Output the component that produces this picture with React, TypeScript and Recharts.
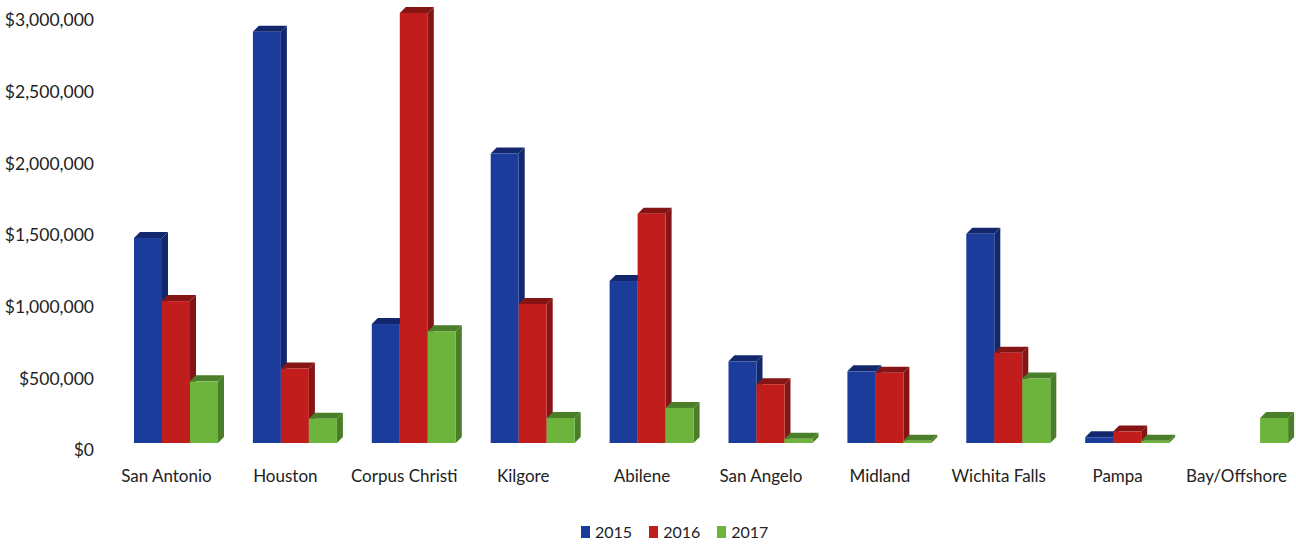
import { BarChart, Bar, XAxis, YAxis, Legend } from 'recharts';

const categories = [
  'San Antonio', 'Houston', 'Corpus Christi', 'Kilgore', 'Abilene',
  'San Angelo', 'Midland', 'Wichita Falls', 'Pampa', 'Bay/Offshore',
];
const values2015 = [1430000, 2870000, 830000, 2020000, 1130000, 570000, 500000, 1460000, 40000, 0];
const values2016 = [990000, 520000, 3000000, 970000, 1600000, 410000, 490000, 630000, 80000, 0];
const values2017 = [430000, 170000, 780000, 175000, 245000, 30000, 15000, 450000, 15000, 175000];
const yTicks = [0, 500000, 1000000, 1500000, 2000000, 2500000, 3000000];

const series = [
  { key: 'y2015', name: '2015', fill: '#1c3c9c', dark: '#13286c' },
  { key: 'y2016', name: '2016', fill: '#c21d1d', dark: '#851414' },
  { key: 'y2017', name: '2017', fill: '#6cb43c', dark: '#4a7e28' },
];

const data = categories.map((c, i) => ({
  name: c,
  y2015: values2015[i],
  y2016: values2016[i],
  y2017: values2017[i],
}));

const FONT = 'Lato, "Open Sans", sans-serif';

// front face + top cap + right side; the whole block sits a little
// behind the axis baseline like the 3D column chart it copies
function Bar3D(props: any) {
  const { x, width, height, fill, dark } = props;
  if (!height || height <= 0) return null;
  const d = 6;
  const y = props.y - 7;
  return (
    <g>
      <path
        d={`M${x},${y} L${x + d},${y - d} L${x + width + d},${y - d} L${x + width},${y} Z`}
        fill={dark}
      />
      <path
        d={`M${x + width},${y} L${x + width + d},${y - d} L${x + width + d},${y + height - d} L${x + width},${y + height} Z`}
        fill={dark}
      />
      <rect x={x} y={y} width={width} height={height} fill={fill} />
    </g>
  );
}

function LegendBox() {
  return (
    <div style={{ display: 'flex', gap: 17, fontFamily: FONT, fontSize: 16, color: '#222' }}>
      {series.map(s => (
        <div key={s.key} style={{ display: 'flex', alignItems: 'center', gap: 5 }}>
          <span style={{ display: 'inline-block', width: 9, height: 12, background: s.fill }} />
          <span>{s.name}</span>
        </div>
      ))}
    </div>
  );
}

export default function App() {
  return (
    <div style={{ position: 'absolute', left: 0, top: 0, width: 1296, height: 544, background: '#fff' }}>
      <BarChart
        width={1296}
        height={544}
        data={data}
        margin={{ top: 20, right: -10, left: 0, bottom: 54 }}
        barGap={0}
        barSize={28}
      >
        <XAxis
          dataKey="name"
          axisLine={false}
          tickLine={false}
          height={40}
          interval={0}
          tickMargin={14}
          tick={{ fontSize: 17, fill: '#222', fontFamily: FONT, dx: -10 }}
        />
        <YAxis
          width={117}
          domain={[0, 3000000]}
          ticks={yTicks}
          axisLine={false}
          tickLine={false}
          tickMargin={17}
          tickFormatter={(v: number) => `$${v.toLocaleString('en-US')}`}
          tick={{ fontSize: 17.5, fill: '#222', fontFamily: FONT }}
        />
        <Legend
          verticalAlign="middle"
          align="center"
          layout="horizontal"
          content={() => <LegendBox />}
          wrapperStyle={{ top: 522, left: 581, width: 220, height: 24 }}
        />
        {series.map(s => (
          <Bar
            key={s.key}
            dataKey={s.key}
            name={s.name}
            fill={s.fill}
            isAnimationActive={false}
            shape={(p: any) => <Bar3D {...p} fill={s.fill} dark={s.dark} />}
          />
        ))}
      </BarChart>
    </div>
  );
}
